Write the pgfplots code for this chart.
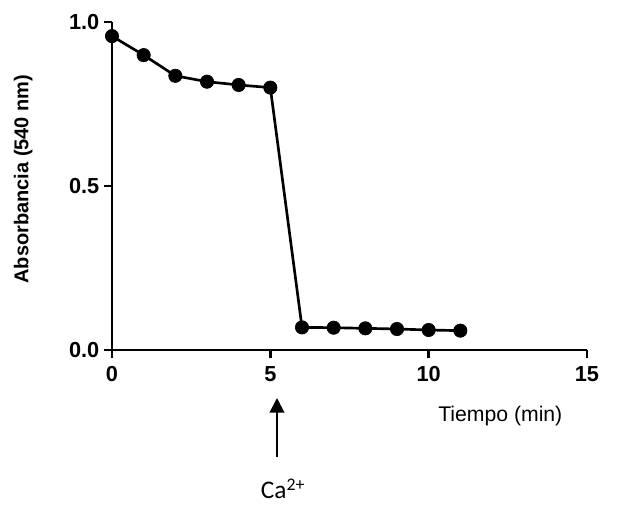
\documentclass[border=0pt]{standalone}
\usepackage{fontspec}
\setmainfont{Liberation Sans}
\newfontfamily\calibri{Carlito}
\usepackage{pgfplots}
\pgfplotsset{compat=1.18}
\usetikzlibrary{arrows.meta}
\begin{document}
\begin{tikzpicture}
\path[use as bounding box] (-84pt,-117.75pt) rectangle (380.25pt,262.5pt);
\begin{axis}[
  at={(0pt,0pt)}, anchor=origin,
  scale only axis, width=356.25pt, height=246pt,
  xmin=0, xmax=15, ymin=0, ymax=1.0,
  axis x line=bottom, axis y line=left,
  axis line style={-, line width=2.2pt},
  every tick/.style={black, line width=2.2pt},
  major tick length=6pt, tick align=outside,
  xtick={0,5,10,15}, ytick={0,0.5,1.0},
  yticklabel style={/pgf/number format/fixed, /pgf/number format/fixed zerofill, /pgf/number format/precision=1},
  xticklabel style={yshift=-3pt},
  /pgf/number format/assume math mode=true,
  ticklabel style={font=\fontsize{16.3}{19}\selectfont\bfseries},
  ylabel={Absorbancia (540 nm)},
  ylabel style={at={(axis description cs:-0.187,0.521)}, anchor=center, font=\fontsize{15}{18}\selectfont\bfseries},
  clip=false,
]
\addplot[black, line width=2pt, mark=*, mark size=5pt, mark options={fill=black, line width=0.5pt}]
coordinates {(0,0.957) (1,0.899) (2,0.836) (3,0.818) (4,0.808) (5,0.800) (6,0.069) (7,0.068) (8,0.066) (9,0.064) (10,0.061) (11,0.059)};
\end{axis}
\node[anchor=base west, font=\fontsize{15.9}{18}\selectfont, inner sep=0pt] at (244.5pt,-54pt) {Tiempo (min)};
\draw[line width=1.5pt, -{Triangle[width=11pt,length=11pt]}] (123.75pt,-80.25pt) -- (123.75pt,-36pt);
\node[anchor=base west, font=\calibri\fontsize{19}{22}\selectfont, inner sep=0pt] at (111.5pt,-111.5pt) {Ca\textsuperscript{2+}};
\end{tikzpicture}
\end{document}
